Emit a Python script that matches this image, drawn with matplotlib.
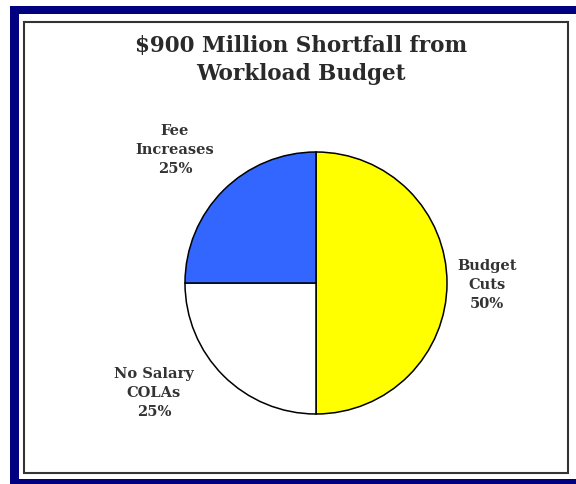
import matplotlib
matplotlib.use("Agg")
import matplotlib.pyplot as plt
from matplotlib.patches import Rectangle

# Data
categories = ["Budget\nCuts", "No Salary\nCOLAs", "Fee\nIncreases"]
shares = [50, 25, 25]
colors = ["#ffff00", "#ffffff", "#3366ff"]
title = "$900 Million Shortfall from\nWorkload Budget"

W, H = 576, 485
fig = plt.figure(figsize=(W / 100, H / 100), dpi=100)
fig.patch.set_facecolor("white")

# Frame: navy band and thin dark inner border (pixel coordinates)
bg = fig.add_axes([0, 0, 1, 1])
bg.set_xlim(0, W)
bg.set_ylim(H, 0)
bg.axis("off")
bg.add_patch(Rectangle((10, 7), 600, 500, facecolor="#000080", edgecolor="none"))
bg.add_patch(Rectangle((19, 15), 600, 465, facecolor="white", edgecolor="none"))
bg.add_patch(Rectangle((24, 22.5), 544, 451, facecolor="white",
                       edgecolor="#333333", linewidth=1.5))

# Title
bg.text(301, 60, title, ha="center", va="center", family="DejaVu Serif",
        fontweight="bold", fontsize=15.5, color="#2a2a2a", linespacing=1.4)

# Pie
cx, cy, r = 316, 284, 131
ax = fig.add_axes([(cx - r) / W, (H - cy - r) / H, 2 * r / W, 2 * r / H])
ax.pie(shares, colors=colors, startangle=90, counterclock=False, radius=1,
       wedgeprops=dict(edgecolor="black", linewidth=1.1))
ax.set_xlim(-1, 1)
ax.set_ylim(-1, 1)
ax.set_aspect("auto")

label_px = [(487, 285), (154, 393), (175, 150)]
for cat, pct, (px, py) in zip(categories, shares, label_px):
    ax.text((px - cx) / r, (cy - py) / r, f"{cat}\n{pct}%", ha="center",
            va="center", family="DejaVu Serif", fontweight="bold",
            fontsize=10.5, color="#333333", linespacing=1.45, clip_on=False)

fig.savefig("out.png", dpi=100, facecolor="white")
